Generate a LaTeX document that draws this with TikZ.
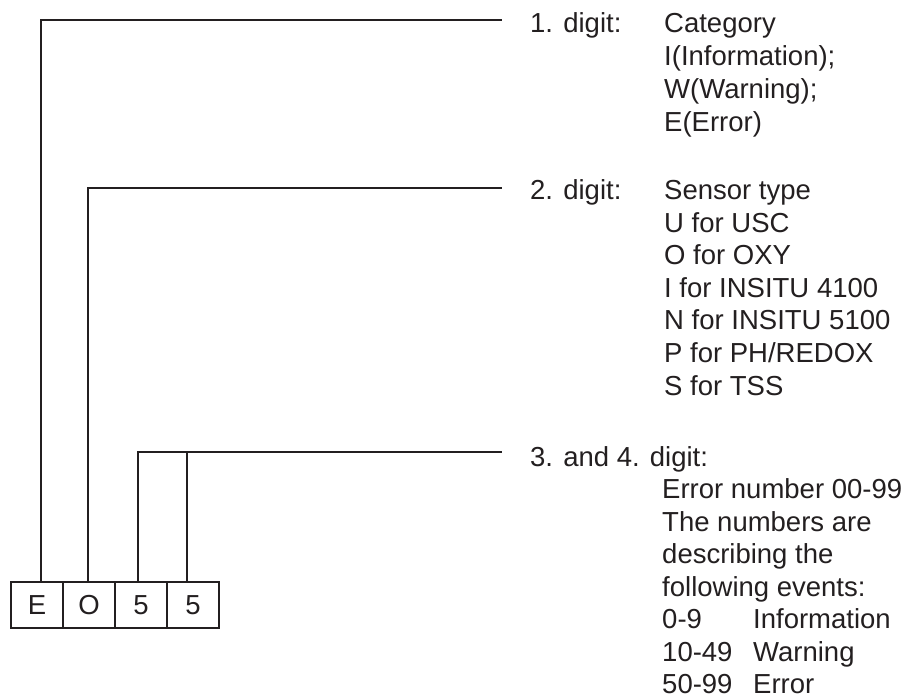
\documentclass[tikz,border=0pt]{standalone}
\usepackage{fontspec}
\setmainfont{Liberation Sans}
\definecolor{ink}{RGB}{35,31,32}
\begin{document}
\begin{tikzpicture}[x=1pt,y=-1pt,
  txt/.style={anchor=base west, inner sep=0pt, text=ink, font=\fontsize{27.5}{31}\selectfont},
  cell/.style={draw=ink, line width=2.4pt, minimum width=52pt, minimum height=46pt, inner sep=0pt, text=ink, font=\fontsize{27.5}{31}\selectfont},
  conn/.style={draw=ink, line width=1.3pt}]
\useasboundingbox (0,0) rectangle (907,700);
% digit cells
\node[cell] (cE) at (37,605) {E};
\node[cell] (cO) at (89,605) {O};
\node[cell] (cFa) at (141,605) {5};
\node[cell] (cFb) at (193,605) {5};
% line ends
\coordinate (e1) at (502,20);
\coordinate (e2) at (502,188);
\coordinate (e3) at (502,452);
% connectors
\draw[conn] ([xshift=4pt]cE.north) |- (e1);
\draw[conn] ([xshift=-1pt]cO.north) |- (e2);
\draw[conn] ([xshift=-3pt]cFa.north) |- (e3);
\draw[conn] ([xshift=-6pt]cFb.north) -- ([xshift=-6pt]cFb.north |- e3);
% block 1
\node[txt] (h1) at (530,33) {1. digit:};
\node[txt] (a1) at (664,33) {Category};
\node[txt] (a2) at (664,66) {I(Information);};
\node[txt] (a3) at (664,99) {W(Warning);};
\node[txt] (a4) at (664,132) {E(Error)};
% block 2
\node[txt] (h2) at (530,200) {2. digit:};
\node[txt] (b1) at (664,200) {Sensor type};
\node[txt] (b2) at (664,232.5) {U for USC};
\node[txt] (b3) at (664,265) {O for OXY};
\node[txt] (b4) at (664,297.5) {I for INSITU 4100};
\node[txt] (b5) at (664,330) {N for INSITU 5100};
\node[txt] (b6) at (664,362.5) {P for PH/REDOX};
\node[txt] (b7) at (664,395) {S for TSS};
% block 3
\node[txt] (h3) at (530,466) {3. and 4. digit:};
\node[txt] (c1) at (662,498.5) {Error number 00-99};
\node[txt] (c2) at (662,531) {The numbers are};
\node[txt] (c3) at (662,563.5) {describing the};
\node[txt] (c4) at (662,596) {following events:};
\node[txt] (c5) at (662,628.5) {0-9};
\node[txt] (c5b) at (753,628.5) {Information};
\node[txt] (c6) at (662,661) {10-49};
\node[txt] (c6b) at (753,661) {Warning};
\node[txt] (c7) at (662,693.5) {50-99};
\node[txt] (c7b) at (753,693.5) {Error};
\end{tikzpicture}
\end{document}
